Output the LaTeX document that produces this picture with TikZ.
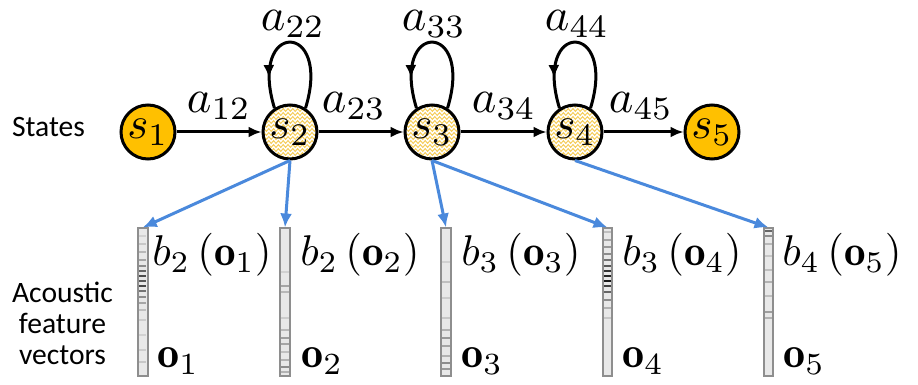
\documentclass[tikz,border=0pt]{standalone}
\usepackage{fontspec}
\newfontfamily\calfont{Carlito}
\usetikzlibrary{arrows.meta,decorations.pathmorphing,decorations.markings,calc}
\definecolor{gold}{HTML}{FFC000}
\definecolor{zzcol}{HTML}{F5CD5C}
\definecolor{arrblue}{HTML}{4A89DC}
\definecolor{vecfill}{HTML}{E8E8E8}
\definecolor{vecline}{HTML}{8E8E8E}
\newcommand\vecbands[2]{\foreach \yy/\g in {#2} \draw[black!\g,line width=0.7pt] (#1-3.6,-\yy) -- (#1+3.6,-\yy);}
\newcommand\mscaled[2]{\scalebox{#1}{$#2$}}
\begin{document}
\begin{tikzpicture}[x=0.5pt,y=0.5pt,
  state/.style={circle,draw,line width=1.5pt,minimum size=27pt,inner sep=0pt},
  edge/.style={line width=1.5pt,-{Latex[length=6.5pt,width=5.5pt]}},
  loopedge/.style={line width=1.5pt,postaction={decorate},
    decoration={markings,mark=at position 0.8 with {\arrow{Latex[length=6.5pt,width=5.5pt]}}}},
  obs/.style={line width=1.5pt,draw=arrblue,-{Latex[length=7pt,width=6pt]}},
  vec/.style={rectangle,draw=vecline,fill=vecfill,line width=1pt,minimum width=4.8pt,minimum height=74pt,inner sep=0pt},
  lab/.style={inner sep=0pt,anchor=base},
  blab/.style={inner sep=0pt,anchor=base west},
  side/.style={font=\calfont\fontsize{14.8}{15.5}\selectfont,inner sep=0pt},
  zz/.style={draw=zzcol,line width=0.5pt,decorate,decoration={zigzag,segment length=2.4pt,amplitude=0.7pt}}
]
\useasboundingbox (0,0) rectangle (918,-385);

% zigzag fill of hidden states
\foreach \cx in {290,432,575}{
  \begin{scope}
    \clip (\cx,-132) circle (13.5pt);
    \foreach \yy in {-162,-158,...,-100}{\draw[zz] (\cx-32,\yy) -- (\cx+32,\yy);}
  \end{scope}
}

% states
\node[state,fill=gold] (s1) at (148,-132) {\mscaled{2.25}{s_1}};
\node[state] (s2) at (290,-132) {\mscaled{2.25}{s_2}};
\node[state] (s3) at (432,-132) {\mscaled{2.25}{s_3}};
\node[state] (s4) at (575,-132) {\mscaled{2.25}{s_4}};
\node[state,fill=gold] (s5) at (712,-132) {\mscaled{2.25}{s_5}};

% transitions
\draw[edge] (s1) -- (s2);
\draw[edge] (s2) -- (s3);
\draw[edge] (s3) -- (s4);
\draw[edge] (s4) -- (s5);
\draw[loopedge] (s2.57) .. controls +(27,88) and +(-27,88) .. (s2.123);
\draw[loopedge] (s3.57) .. controls +(27,88) and +(-27,88) .. (s3.123);
\draw[loopedge] (s4.57) .. controls +(27,88) and +(-27,88) .. (s4.123);

\node[lab] (a12) at (219,-113) {\mscaled{2.33}{a_{12}}};
\node[lab] (a23) at (354,-113) {\mscaled{2.33}{a_{23}}};
\node[lab] (a34) at (504,-113) {\mscaled{2.33}{a_{34}}};
\node[lab] (a45) at (641,-113) {\mscaled{2.33}{a_{45}}};
\node[lab] (a22) at (293,-31) {\mscaled{2.33}{a_{22}}};
\node[lab] (a33) at (434,-31) {\mscaled{2.33}{a_{33}}};
\node[lab] (a44) at (577,-31) {\mscaled{2.33}{a_{44}}};

% feature vectors
\node[vec] (v1) at (142.75,-302.5) {};
\node[vec] (v2) at (285,-302.5) {};
\node[vec] (v3) at (446,-302.5) {};
\node[vec] (v4) at (607.5,-302.5) {};
\node[vec] (v5) at (768.5,-302.5) {};
\vecbands{142.75}{236/18,244/22,252/28,260/35,266/45,271/60,276/70,281/65,286/72,291/55,297/45,303/35,310/25,320/20,335/18,350/20,362/22}
\vecbands{285}{272/18,286/35,292/28,318/20,330/28,338/38,344/35,352/25,360/30,367/45,372/30}
\vecbands{446}{262/18,282/25,298/20,318/22,330/30,338/40,346/35,356/30,363/45,369/40}
\vecbands{607.5}{232/25,240/35,247/40,254/45,260/55,266/65,271/80,276/85,281/90,286/75,292/60,300/45,308/30,318/22}
\vecbands{768.5}{231/60,236/45,244/28,256/22,270/25,282/30,296/25,312/38,318/30}

\node[blab] (b1) at (152,-266) {\mscaled{2.15}{b_2\left(\mathbf{o}_1\right)}};
\node[blab] (b2) at (300,-266) {\mscaled{2.15}{b_2\left(\mathbf{o}_2\right)}};
\node[blab] (b3) at (461,-266) {\mscaled{2.15}{b_3\left(\mathbf{o}_3\right)}};
\node[blab] (b4) at (622,-266) {\mscaled{2.15}{b_3\left(\mathbf{o}_4\right)}};
\node[blab] (b5) at (782,-266) {\mscaled{2.15}{b_4\left(\mathbf{o}_5\right)}};
\node[blab] (o1) at (157,-368) {\mscaled{2.2}{\mathbf{o}_1}};
\node[blab] (o2) at (301,-368) {\mscaled{2.2}{\mathbf{o}_2}};
\node[blab] (o3) at (461,-368) {\mscaled{2.2}{\mathbf{o}_3}};
\node[blab] (o4) at (622,-368) {\mscaled{2.2}{\mathbf{o}_4}};
\node[blab] (o5) at (783,-368) {\mscaled{2.2}{\mathbf{o}_5}};

% emissions
\draw[obs] (s2.south) -- (v1.north);
\draw[obs] (s2.south) -- (v2.north);
\draw[obs] (s3.south) -- (v3.north);
\draw[obs] (s3.south) -- (v4.north);
\draw[obs] (s4.south) -- (v5.north);

% side labels
\node[side,anchor=base] (states) at (48.5,-137) {States};
\node[side,align=center] (afv) at (62.5,-323) {Acoustic\\feature\\vectors};
\end{tikzpicture}
\end{document}
